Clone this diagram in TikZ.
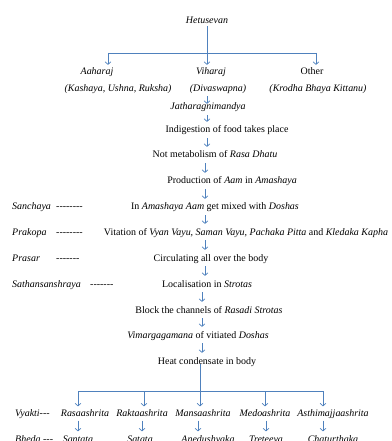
\documentclass[tikz,border=0pt]{standalone}
\usepackage{fontspec}
\setmainfont{Liberation Serif}
\usetikzlibrary{arrows.meta}
\definecolor{arrblue}{RGB}{79,129,189}
\begin{document}
\begin{tikzpicture}[x=1bp,y=-1bp,
  txt/.style={inner sep=0pt,anchor=base,text height=7pt,text depth=2pt,font=\fontsize{10}{12}\selectfont},
  ltxt/.style={txt,anchor=base west},
  conn/.style={draw=arrblue,line width=0.7pt},
  arr/.style={conn,-{Straight Barb[length=2.6pt,width=6pt,line width=0.7pt]},shorten <=3pt,shorten >=4pt}]
\useasboundingbox (0,0) rectangle (391,441);
\clip (0,0) rectangle (391,441);
% nodes (y = baseline)
\node[txt] (het) at (207,24) {\textit{Hetusevan}};
\node[txt] (aah) at (97,75) {\textit{Aaharaj}};
\node[txt] (vih) at (211,75) {\textit{Viharaj}};
\node[txt] (oth) at (312,75) {Other};
\node[txt] (aah2) at (118,92) {\textit{(Kashaya, Ushna, Ruksha)}};
\node[txt] (vih2) at (218,92) {\textit{(Divaswapna)}};
\node[txt] (oth2) at (318,92) {\textit{(Krodha Bhaya Kittanu)}};
\node[txt] (jat) at (208,110) {\textit{Jatharagnimandya}};
\node[txt] (ind) at (227,133) {Indigestion of food takes place};
\node[txt] (nmet) at (215,158) {Not metabolism of \textit{Rasa Dhatu}};
\node[txt] (prod) at (232,184) {Production of \textit{Aam} in \textit{Amashaya}};
\node[txt] (mix) at (215,210) {In \textit{Amashaya Aam} get mixed with \textit{Doshas}};
\node[txt] (vit) at (246,235) {Vitation of \textit{Vyan Vayu, Saman Vayu, Pachaka Pitta} and \textit{Kledaka Kapha}};
\node[txt] (circ) at (211,261) {Circulating all over the body};
\node[txt] (loc) at (207,287) {Localisation in \textit{Strotas}};
\node[txt] (blk) at (209,313) {Block the channels of \textit{Rasadi Strotas}};
\node[txt] (vim) at (198,338) {\textit{Vimargagamana} of vitiated \textit{Doshas}};
\node[txt] (heat) at (207,364) {Heat condensate in body};
% stage labels
\node[ltxt] (sanc) at (12,210) {\textit{Sanchaya}};
\node[ltxt] (sancd) at (56,210) {-{}-{}-{}-{}-{}-{}-{}-};
\node[ltxt] (prak) at (12,235) {\textit{Prakopa}};
\node[ltxt] (prakd) at (56,235) {-{}-{}-{}-{}-{}-{}-{}-};
\node[ltxt] (pras) at (12,261) {\textit{Prasar}};
\node[ltxt] (prasd) at (56,261) {-{}-{}-{}-{}-{}-{}-};
\node[ltxt] (sath) at (12,287) {\textit{Sathansanshraya}};
\node[ltxt] (sathd) at (90,287) {-{}-{}-{}-{}-{}-{}-};
% bottom rows
\node[ltxt] (vy) at (15,416.5) {\textit{Vyakti}-{}-{}-};
\node[txt] (r1) at (85,416.5) {\textit{Rasaashrita}};
\node[txt] (r2) at (142,416.5) {\textit{Raktaashrita}};
\node[txt] (r3) at (203,416.5) {\textit{Mansaashrita}};
\node[txt] (r4) at (265,416.5) {\textit{Medoashrita}};
\node[txt] (r5) at (333,416.5) {\textit{Asthimajjaashrita}};
\node[ltxt] (bh) at (15,442.5) {\textit{Bheda} -{}-{}-};
\node[txt] (b1) at (78,442.5) {\textit{Santata}};
\node[txt] (b2) at (140,442.5) {\textit{Satata}};
\node[txt] (b3) at (208,442.5) {\textit{Anedushyaka}};
\node[txt] (b4) at (266,442.5) {\textit{Treteeya}};
\node[txt] (b5) at (333,442.5) {\textit{Chaturthaka}};
% top tree
\coordinate (hs) at (207,53);
\coordinate (hl) at (108,53);
\coordinate (hr) at (316,53);
\draw[conn] (het.south -| hs) -- (hs);
\draw[conn] (hl) -- (hr);
\draw[arr,shorten <=0pt,shorten >=3pt] (hl) -- (hl |- aah.north);
\draw[arr,shorten <=0pt,shorten >=3pt] (hs) -- (hs |- vih.north);
\draw[arr,shorten <=0pt,shorten >=3pt] (hr) -- (hr |- oth.north);
% main chain
\coordinate (ax1) at (207,0);
\coordinate (ax2) at (205,0);
\coordinate (ax3) at (202,0);
\draw[arr,shorten <=2pt,shorten >=-1pt] (vih2.south -| ax1) -- (jat.north -| ax1);
\draw[arr] (jat.south -| ax1) -- (ind.north -| ax1);
\draw[arr] (ind.south -| ax1) -- (nmet.north -| ax1);
\draw[arr] (nmet.south -| ax2) -- (prod.north -| ax2);
\draw[arr] (prod.south -| ax2) -- (mix.north -| ax2);
\draw[arr] (mix.south -| ax2) -- (vit.north -| ax2);
\draw[arr] (vit.south -| ax2) -- (circ.north -| ax2);
\draw[arr] (circ.south -| ax2) -- (loc.north -| ax2);
\draw[arr] (loc.south -| ax3) -- (blk.north -| ax3);
\draw[arr] (blk.south -| ax3) -- (vim.north -| ax3);
\draw[arr] (vim.south -| ax3) -- (heat.north -| ax3);
% bottom tree
\coordinate (bs) at (200,391);
\coordinate (bl) at (78,391);
\coordinate (br) at (323,391);
\coordinate (bx2) at (144,391);
\coordinate (bx4) at (265,391);
\draw[conn] (heat.south -| bs) ++(0,2pt) -- (bs);
\draw[conn] (bl) -- (br);
\foreach \c/\n in {bl/r1,bx2/r2,bs/r3,bx4/r4,br/r5}
  \draw[arr,shorten <=0pt,shorten >=3pt] (\c) -- (\c |- \n.north);
\coordinate (cx1) at (78,0);
\coordinate (cx2) at (142,0);
\coordinate (cx3) at (198,0);
\coordinate (cx4) at (266,0);
\coordinate (cx5) at (323,0);
\foreach \i in {1,...,5}
  \draw[arr,shorten <=2pt,shorten >=4pt] (r\i.south -| cx\i) -- (b\i.north -| cx\i);
\end{tikzpicture}
\end{document}
